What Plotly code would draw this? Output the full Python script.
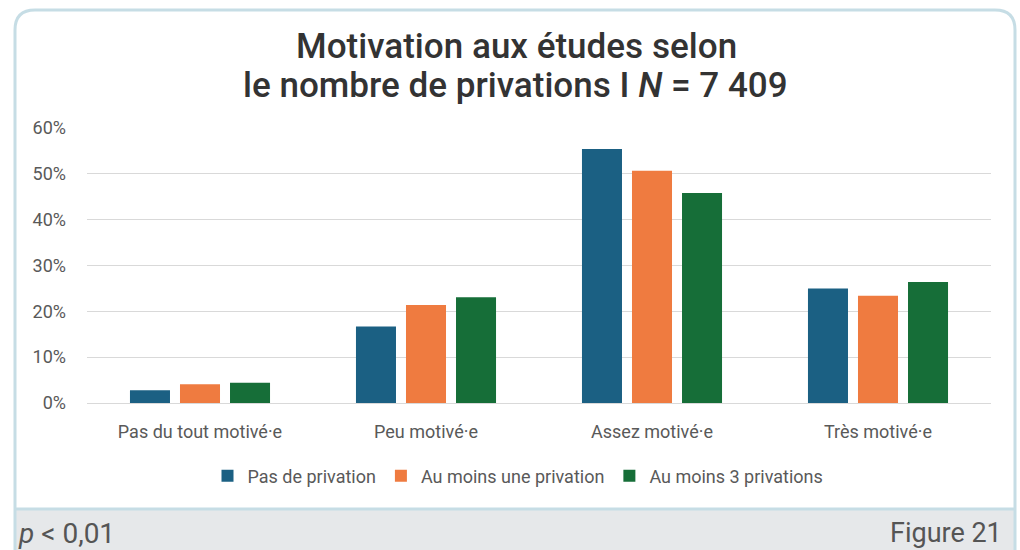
import plotly.graph_objects as go

categories = ["Pas du tout motivé·e", "Peu motivé·e", "Assez motivé·e", "Très motivé·e"]
series_names = ["Pas de privation", "Au moins une privation", "Au moins 3 privations"]
pas_de_privation = [2.8, 16.7, 55.4, 25.0]
au_moins_une = [4.1, 21.4, 50.7, 23.4]
au_moins_trois = [4.4, 23.1, 45.8, 26.4]
y_ticks = [0, 10, 20, 30, 40, 50, 60]
y_tick_labels = ["0%", "10%", "20%", "30%", "40%", "50%", "60%"]
colors = ["#1b6083", "#ef7b40", "#166e38"]

W, H = 1020, 550
L, R, T, B = 87, 29, 128, 147
PW, PH = W - L - R, H - T - B


def px(xp):
    return (xp - L) / PW


def py(yp):
    return (H - B - yp) / PH


fig = go.Figure()
for name, vals, col in zip(series_names, [pas_de_privation, au_moins_une, au_moins_trois], colors):
    fig.add_trace(go.Bar(x=categories, y=vals, name=name, marker=dict(color=col, line_width=0)))

# rounded border path
x0, x1, y0, y1, r = 15, 1015, 10, 560, 20
path = (f"M {px(x0)},{py(y1)} L {px(x0)},{py(y0 + r)} "
        f"Q {px(x0)},{py(y0)} {px(x0 + r)},{py(y0)} "
        f"L {px(x1 - r)},{py(y0)} Q {px(x1)},{py(y0)} {px(x1)},{py(y0 + r)} "
        f"L {px(x1)},{py(y1)}")

shapes = [
    dict(type="rect", xref="paper", yref="paper", x0=px(15), x1=px(1015), y0=py(551), y1=py(509),
         fillcolor="#e6e8ea", line_width=0, layer="below"),
    dict(type="line", xref="paper", yref="paper", x0=px(15), x1=px(1015), y0=py(509), y1=py(509),
         line=dict(color="#c6dde5", width=3), layer="above"),
    dict(type="path", xref="paper", yref="paper", path=path,
         line=dict(color="#c6dde5", width=3), layer="above"),
]

title_font = dict(family="Roboto Medium, Roboto", size=35, color="#333333")
annotations = [
    dict(text="Motivation aux études selon",
         xref="paper", yref="paper", x=px(516), y=py(46), xanchor="center", yanchor="middle",
         showarrow=False, font=title_font),
    dict(text="le nombre de privations I <i>N</i> = 7 409",
         xref="paper", yref="paper", x=px(515), y=py(86), xanchor="center", yanchor="middle",
         showarrow=False, font=title_font),
    dict(text="<i>p</i> < 0,01", xref="paper", yref="paper", x=px(16), y=py(533),
         xanchor="left", yanchor="middle", showarrow=False,
         font=dict(family="Roboto", size=28, color="#555555")),
    dict(text="Figure 21", xref="paper", yref="paper", x=px(1004), y=py(533),
         xanchor="right", yanchor="middle", showarrow=False,
         font=dict(family="Roboto", size=27, color="#555555")),
]

fig.update_layout(
    width=W, height=H,
    margin=dict(l=L, r=R, t=T, b=B),
    paper_bgcolor="white", plot_bgcolor="white",
    barmode="group", bargap=0.336, bargroupgap=0.2,
    font=dict(family="Roboto", color="#595959"),
    showlegend=True,
    legend=dict(orientation="h", x=px(518), xanchor="center", y=py(476), yanchor="middle",
                font=dict(family="Roboto", size=18, color="#595959"), itemwidth=30,
                bgcolor="rgba(0,0,0,0)"),
    shapes=shapes, annotations=annotations,
)
fig.update_xaxes(showgrid=False, showline=False, ticks="", tickfont=dict(size=18, color="#595959"),
                 ticklabelstandoff=16)
fig.update_yaxes(range=[0, 60], tickvals=y_ticks, ticktext=y_tick_labels, showgrid=True,
                 gridcolor="#d9d9d9", gridwidth=1, zeroline=True, zerolinecolor="#d9d9d9",
                 zerolinewidth=1, tickfont=dict(size=18, color="#595959"), ticklabelstandoff=20)

fig.write_html("out.html", config={"displayModeBar": False},
               post_script="document.body.style.margin='0';")
